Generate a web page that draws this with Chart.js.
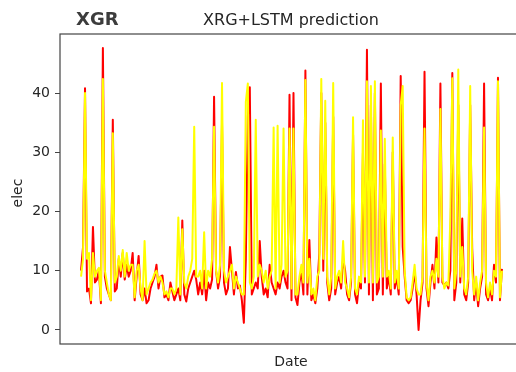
<!DOCTYPE html>
<html>
<head>
<meta charset="utf-8">
<script src="https://cdn.jsdelivr.net/npm/chart.js@4/dist/chart.umd.min.js"></script>
<style>
  html, body { margin: 0; padding: 0; background: #fff; overflow: hidden; }
  #wrap { width: 516px; height: 372px; overflow: hidden; }
  canvas { display: block; }
</style>
</head>
<body>
<div id="wrap"><canvas id="chart" width="530" height="372" style="width:530px;height:372px"></canvas></div>
<script>
// ── Data ─────────────────────────────────────────────────
const actual = [
  10, 14, 40.8, 6.5, 7, 4.5, 17.4, 8, 8.5, 10,
  4.5, 47.6, 9, 7, 6, 5, 35.5, 6.5, 7, 12,
  9, 13, 8.5, 11, 9, 10, 13, 5, 9, 12.5,
  6, 5, 7, 4.5, 5, 7, 8, 9, 11, 7,
  9, 9.2, 5.5, 6, 5, 8, 6.5, 5, 6, 7,
  5, 18.5, 6, 4.8, 7, 8, 9, 10, 8.5, 6,
  8, 6, 10, 5, 8, 7, 8.5, 39.4, 10, 7,
  9, 35, 8, 6, 7, 14, 10, 6, 9.8, 7,
  7.5, 5, 1.2, 12, 36, 41, 6, 7, 8, 7,
  15, 9, 6, 7, 5.5, 11, 8, 7, 6, 8,
  7, 9, 10, 8, 7, 39.7, 5, 40, 5.5, 4.2,
  8, 10, 6, 43.8, 6, 15.2, 5, 6, 4.5, 7,
  13, 40, 10, 35, 8, 5, 7, 36, 6, 8,
  9, 7, 12, 10, 6, 5, 8, 33, 6, 4.5,
  8, 7, 30, 8, 47.3, 6, 38, 5, 40, 6,
  7, 41.6, 6, 28, 7, 9, 6, 30, 7, 9,
  6, 42.9, 14, 9, 5, 4.5, 5, 7, 10, 6,
  0, 5, 8, 43.6, 7, 4, 8, 11, 7, 15.6,
  8, 41.6, 8, 7.5, 8, 7, 10, 43.4, 5, 8,
  38, 8, 18.8, 6, 5, 8, 38, 13.8, 5, 8,
  4, 7, 9, 41.6, 6, 5, 7, 5, 11, 8,
  42.6, 5, 10.3
];

const predicted = [
  9, 12, 40, 12, 13, 5, 13, 9, 10, 10.5,
  5, 42.4, 10, 8, 6, 5, 33.2, 8, 9, 12.5,
  10, 13.5, 9, 13, 10, 11, 11, 5.5, 10, 11,
  7, 5, 15, 6, 7, 8, 8.5, 9.5, 10, 8,
  9, 8, 6, 6.5, 5.5, 7, 7, 6, 7, 19,
  6, 17, 8, 7, 9, 10, 12, 34.3, 9, 9,
  10, 7, 16.5, 7, 10, 9, 12, 34.3, 10, 8,
  11, 41.7, 10, 8, 9, 10, 11, 7, 9, 8,
  7, 6, 6, 38.5, 41.6, 8, 7, 9, 35.5, 9,
  11, 10, 8, 10, 7, 9, 10, 34.2, 7, 34.5,
  8, 11, 34, 9, 10, 34, 7, 34, 6, 6,
  9, 11, 8, 42.2, 8, 12, 6, 7, 5, 9,
  10, 42.4, 12, 38.7, 9, 6, 9, 41.7, 7, 9,
  10, 8, 15, 8, 7, 5.5, 9, 35.9, 7, 6,
  9, 8, 35.4, 9, 42, 8, 41.2, 8, 42, 8,
  9, 33.7, 9, 32.3, 9, 10, 7, 32.5, 8, 10,
  7, 38, 41.2, 10, 5.5, 5, 5.5, 8, 11, 7,
  6, 6, 9, 34, 8, 5, 9, 10, 8, 12,
  9, 37.3, 9, 7, 8, 7.5, 19, 42.5, 7, 10,
  44, 9, 14, 7, 6, 9, 41.2, 10, 6, 9,
  5, 8, 10, 34.2, 8, 5.5, 8, 6, 10, 9,
  42, 5.5, 10
];

const yTicks = [0, 10, 20, 30, 40];
const titleText = "XRG+LSTM prediction";
const tagText = "XGR";
const xLabel = "Date";
const yLabel = "elec";

// ── Style helpers ────────────────────────────────────────
const FONT = "'DejaVu Sans', sans-serif";
const INK = "#262626";
const FRAME = "#444";

const toPoints = (arr) => arr.map((v, i) => ({ x: i, y: v }));

// frame + texts drawn around the chart area, matplotlib style
const decorations = {
  id: "decorations",
  afterDraw(chart) {
    const { ctx, chartArea: a } = chart;
    ctx.save();
    ctx.strokeStyle = FRAME;
    ctx.lineWidth = 1.2;
    ctx.strokeRect(a.left, a.top, a.right - a.left, a.bottom - a.top);

    ctx.fillStyle = "#3c3c3c";
    ctx.font = `bold 18px ${FONT}`;
    ctx.textBaseline = "alphabetic";
    ctx.textAlign = "left";
    ctx.fillText(tagText, 76, 25);

    ctx.fillStyle = INK;
    ctx.font = `16px ${FONT}`;
    ctx.textAlign = "center";
    ctx.fillText(titleText, 291, 25);

    ctx.font = `14px ${FONT}`;
    ctx.textBaseline = "middle";
    ctx.fillText(xLabel, 291, 362);

    ctx.translate(18, 193);
    ctx.rotate(-Math.PI / 2);
    ctx.fillText(yLabel, 0, 0);
    ctx.restore();
  },
};

new Chart(document.getElementById("chart"), {
  type: "line",
  data: {
    datasets: [
      {
        label: "prediction",
        data: toPoints(predicted),
        borderColor: "#ffff00",
        borderWidth: 2,
        borderJoinStyle: "round",
        pointRadius: 0,
        tension: 0,
        order: 0,
      },
      {
        label: "actual",
        data: toPoints(actual),
        borderColor: "#ff0000",
        borderWidth: 2,
        borderJoinStyle: "round",
        pointRadius: 0,
        tension: 0,
        order: 1,
      },
    ],
  },
  options: {
    responsive: false,
    animation: false,
    devicePixelRatio: 1,
    layout: { padding: { left: 0, top: 34, right: 7, bottom: 0 } },
    plugins: {
      legend: { display: false },
      tooltip: { enabled: false },
      title: { display: false },
    },
    scales: {
      x: {
        type: "linear",
        min: -10.6,
        max: 222.6,
        ticks: { display: false },
        grid: { display: false },
        border: { display: false },
        afterFit: (s) => { s.height = 28; },
      },
      y: {
        min: -2.38,
        max: 49.98,
        afterBuildTicks: (s) => { s.ticks = yTicks.map((v) => ({ value: v })); },
        afterFit: (s) => { s.width = 60; },
        ticks: {
          color: INK,
          padding: 5,
          font: { family: FONT, size: 14 },
        },
        grid: {
          drawOnChartArea: false,
          drawTicks: true,
          tickLength: 5,
          color: FRAME,
        },
        border: { display: false },
      },
    },
  },
  plugins: [decorations],
});
</script>
</body>
</html>
